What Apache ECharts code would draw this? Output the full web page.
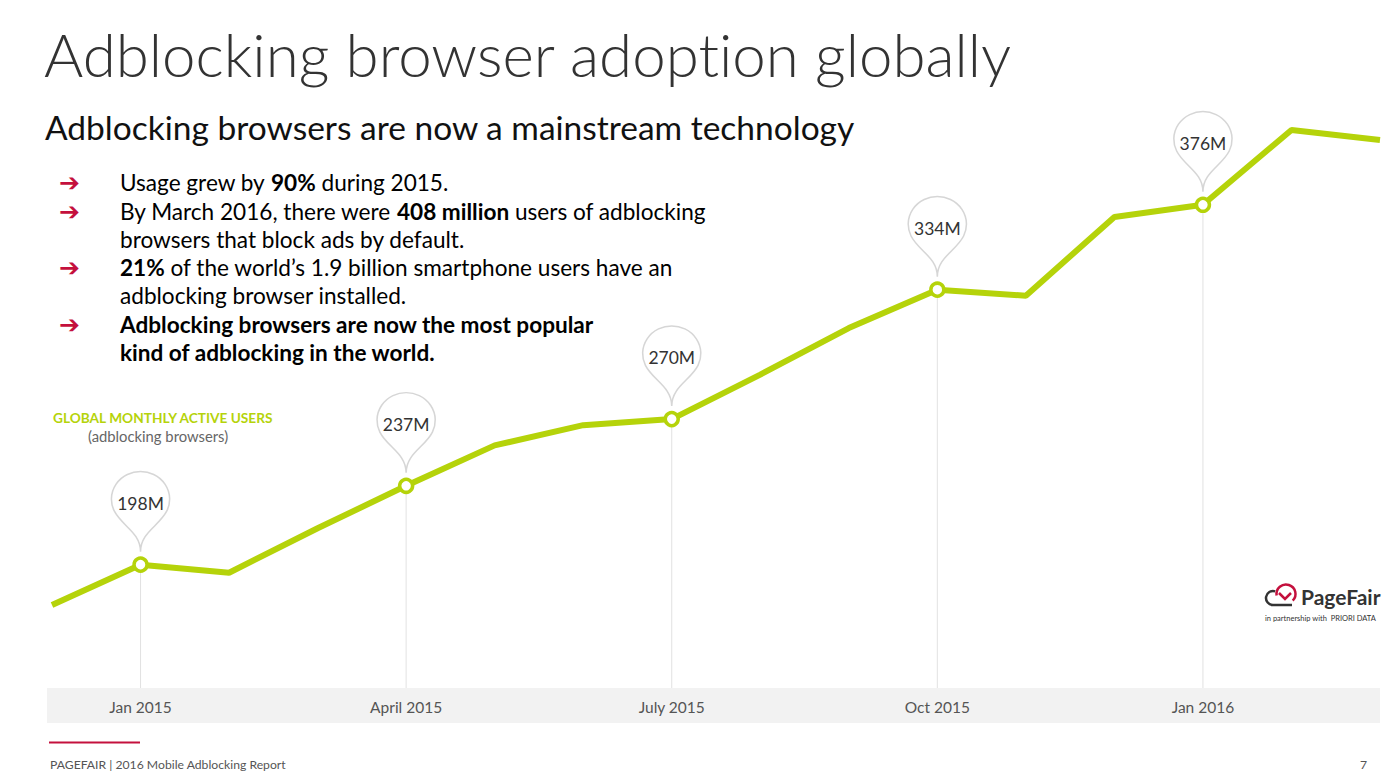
<!DOCTYPE html>
<html>
<head>
<meta charset="utf-8">
<script src="https://cdn.jsdelivr.net/npm/echarts@6/dist/echarts.min.js"></script>
<style>
html,body{margin:0;padding:0;background:#fff;}
#chart{width:1390px;height:784px;}
#chart text, #chart tspan{font-variant-ligatures:none !important;font-feature-settings:"liga" 0,"clig" 0 !important;}
</style>
</head>
<body>
<div id="chart"></div>
<script>
// ---- data ----
var months = ['Dec 2014','Jan 2015','Feb 2015','Mar 2015','Apr 2015','May 2015','Jun 2015','Jul 2015',
              'Aug 2015','Sep 2015','Oct 2015','Nov 2015','Dec 2015','Jan 2016','Feb 2016','Mar 2016'];
var users = [178, 198, 194, 216, 237, 257, 267, 270, 292, 315, 334, 331, 370, 376, 413, 408];
var tickLabels = {'Jan 2015':'Jan 2015','Apr 2015':'April 2015','Jul 2015':'July 2015','Oct 2015':'Oct 2015','Jan 2016':'Jan 2016'};
var pinMonths = ['Jan 2015','Apr 2015','Jul 2015','Oct 2015','Jan 2016'];

var title = 'Adblocking browser adoption globally';
var subtitle = 'Adblocking browsers are now a mainstream technology';
var seriesTitle = 'GLOBAL MONTHLY ACTIVE USERS';
var seriesSub = '(adblocking browsers)';
var footer = 'PAGEFAIR | 2016 Mobile Adblocking Report';
var pageNo = '7';

var LIME = '#b5d30a';
var CRIMSON = '#c4103d';
var FONT = 'Lato, "Open Sans", sans-serif';

var chart = echarts.init(document.getElementById('chart'), null, {renderer:'svg'});

var pinData = pinMonths.map(function(m){
  var i = months.indexOf(m);
  return {coord:[m, users[i]], value: users[i]};
});
var stemData = months.map(function(m, i){
  return pinMonths.indexOf(m) >= 0 ? users[i] : '-';
});

var bulletY = [182, 211, 267, 324];
var FS = 22.6;
var rich = {
  n:{fontFamily:FONT, fontSize:FS, color:'#222', fontWeight:400, lineHeight:28.5},
  b:{fontFamily:FONT, fontSize:FS, color:'#111', fontWeight:700, lineHeight:28.5}
};

var graphics = [
  {type:'rect', shape:{x:47, y:688, width:1333, height:35}, style:{fill:'#f2f2f2'}, z:-10},
  {type:'text', x:44, y:54, style:{text:title, font:'300 60px '+FONT, fill:'#333', textVerticalAlign:'middle'}},
  {type:'text', x:45, y:127, style:{text:subtitle, font:'400 33.5px '+FONT, fill:'#111', textVerticalAlign:'middle'}},
  {type:'text', x:53, y:417, style:{text:seriesTitle, font:'700 13.7px '+FONT, fill:LIME, textVerticalAlign:'middle'}},
  {type:'text', x:88, y:436, style:{text:seriesSub, font:'400 14.8px '+FONT, fill:'#666', textVerticalAlign:'middle'}},
  {type:'rect', shape:{x:49, y:741.5, width:91, height:2}, style:{fill:CRIMSON}},
  {type:'text', x:50, y:764, style:{text:footer, font:'400 12.2px '+FONT, fill:'#555', textVerticalAlign:'middle'}},
  {type:'text', x:1360, y:764, style:{text:pageNo, font:'400 12.2px '+FONT, fill:'#555', textVerticalAlign:'middle'}},
  // logo
  {type:'text', x:1301, y:596, style:{text:'PageFair', font:'700 21px '+FONT, fill:'#333', textVerticalAlign:'middle'}},
  {type:'text', x:1265, y:618, style:{text:'in partnership with  PRIORI DATA', font:'400 7.5px '+FONT, fill:'#333', textVerticalAlign:'middle'}},
  {type:'arc', shape:{cx:1286, cy:594, r:9.5, startAngle:Math.PI*0.95, endAngle:Math.PI*2.25}, style:{stroke:CRIMSON, lineWidth:2.5, fill:null}},
  {type:'arc', shape:{cx:1273, cy:598, r:7, startAngle:Math.PI*0.5, endAngle:Math.PI*1.6}, style:{stroke:'#333', lineWidth:2.5, fill:null}},
  {type:'line', shape:{x1:1273, y1:605, x2:1292, y2:605}, style:{stroke:'#333', lineWidth:2.5}},
  {type:'polyline', shape:{points:[[1279,593],[1285,599],[1291,593]]}, style:{stroke:CRIMSON, lineWidth:2.5, fill:null}}
];
// bullets
var bullets = [
  '{n|Usage grew by }{b|90%}{n| during 2015.}',
  '{n|By March 2016, there were }{b|408 million}{n| users of adblocking}\n{n|browsers that block ads by default.}',
  '{b|21%}{n| of the world\u2019s 1.9 billion smartphone users have an}\n{n|adblocking browser installed.}',
  '{b|Adblocking browsers are now the most popular}\n{b|kind of adblocking in the world.}'
];
bullets.forEach(function(b, i){
  graphics.push({type:'text', x:59, y:bulletY[i], style:{text:'\u2794', font:'700 25px "DejaVu Sans", sans-serif', fill:CRIMSON, textVerticalAlign:'middle'}});
  graphics.push({type:'text', x:120, y:bulletY[i] - 14.25, style:{text:b, rich:rich, textVerticalAlign:'top'}});
});

var option = {
  animation:false,
  backgroundColor:'#fff',
  grid:{left:52, right:10, top:41, bottom:96, containLabel:false},
  xAxis:{
    type:'category', data:months, boundaryGap:false,
    axisLine:{show:false}, axisTick:{show:false}, splitLine:{show:false},
    axisLabel:{
      interval:0, margin:11,
      formatter:function(v){ return tickLabels[v] || ''; },
      fontFamily:FONT, fontSize:15.5, color:'#555'
    }
  },
  yAxis:{
    type:'value', min:137, max:457,
    show:false, splitLine:{show:false}
  },
  series:[
    {
      type:'bar', data:stemData, barWidth:1, z:1,
      itemStyle:{color:'#e2e2e2'}, silent:true
    },
    {
      type:'line', data:users, z:3,
      lineStyle:{color:LIME, width:6},
      showAllSymbol:true,
      symbol:'circle',
      symbolSize:function(v, p){ return pinMonths.indexOf(months[p.dataIndex]) >= 0 ? 13 : 0; },
      itemStyle:{color:'#fff', borderColor:LIME, borderWidth:3.5},
      markPoint:{
        symbol:'pin', symbolSize:[97, 92], symbolOffset:[0, -13],
        itemStyle:{color:'#fff', borderColor:'#d6d6d6', borderWidth:1.5},
        label:{
          show:true, formatter:function(p){ return p.value + 'M'; },
          fontFamily:FONT, fontSize:17.5, color:'#333', offset:[0,0]
        },
        data:pinData
      }
    }
  ],
  graphic:graphics
};
chart.setOption(option);
</script>
</body>
</html>
